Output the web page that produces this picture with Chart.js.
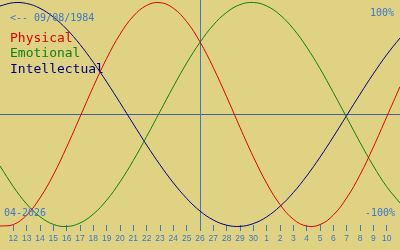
<!DOCTYPE html>
<html><head><meta charset="utf-8">
<script src="https://cdn.jsdelivr.net/npm/chart.js@4"></script>
<style>html,body{margin:0;padding:0;background:#e0d283;overflow:hidden}</style>
</head><body>
<canvas id="c" width="400" height="250" style="display:block;width:400px;height:250px"></canvas>
<script>
// day labels for data points (index 0 = 11 Apr ... index 30 = 11 May)
const dayLabels = ['11','12','13','14','15','16','17','18','19','20','21','22','23','24','25','26','27','28','29','30','1','2','3','4','5','6','7','8','9','10','11'];
const physical = [-0.996,-0.983,-0.898,-0.745,-0.539,-0.291,-0.022,0.249,0.501,0.716,0.878,0.974,0.999,0.949,0.829,0.648,0.418,0.158,-0.115,-0.378,-0.614,-0.804,-0.935,-0.996,-0.983,-0.898,-0.745,-0.539,-0.291,-0.022,0.249];
const emotional = [-0.459,-0.644,-0.799,-0.912,-0.981,-1.000,-0.969,-0.889,-0.765,-0.602,-0.410,-0.196,0.026,0.249,0.459,0.644,0.799,0.912,0.981,1.000,0.969,0.889,0.765,0.602,0.410,0.196,-0.026,-0.249,-0.459,-0.644,-0.790];
const intellectual = [0.969,0.998,0.991,0.948,0.870,0.762,0.625,0.466,0.291,0.105,-0.085,-0.273,-0.449,-0.610,-0.749,-0.862,-0.942,-0.988,-0.999,-0.974,-0.914,-0.820,-0.697,-0.549,-0.381,-0.199,-0.009,0.181,0.363,0.533,0.683];
const seriesNames = ['Physical','Emotional','Intellectual'];
const birthText = '<-- 09/08/1984';
const monthText = '04-2026';
const topText = '100%';
const bottomText = '-100%';
const todayIndex = 15;

const BLUE = '#3a78cc';
const colors = ['#e00000','#108010','#000080'];

function pts(arr){ return arr.map((v,i)=>({x:i,y:v})); }

const deco = {
  id:'deco',
  beforeDraw(chart){
    const ctx = chart.ctx;
    ctx.save(); ctx.fillStyle = '#e0d283'; ctx.fillRect(0,0,chart.width,chart.height); ctx.restore();
  },
  beforeDatasetsDraw(chart){
    const {ctx, chartArea:a, scales:{x,y}} = chart;
    ctx.save();
    ctx.lineWidth = 1;
    const yz = Math.round(y.getPixelForValue(0)) + 0.5;
    ctx.strokeStyle = '#40649a';
    ctx.beginPath(); ctx.moveTo(a.left, yz); ctx.lineTo(a.right, yz); ctx.stroke();
    const xt = Math.round(x.getPixelForValue(todayIndex)) + 0.5;
    ctx.strokeStyle = BLUE;
    ctx.beginPath(); ctx.moveTo(xt, a.top); ctx.lineTo(xt, a.bottom + 4); ctx.stroke();
    ctx.restore();
  },
  afterDraw(chart){
    const ctx = chart.ctx;
    ctx.save();
    ctx.textBaseline = 'alphabetic';
    ctx.font = '10px "DejaVu Sans Mono"';
    ctx.fillStyle = BLUE;
    ctx.textAlign = 'left';
    ctx.fillText(birthText, 10, 21);
    ctx.fillText(monthText, 4, 216);
    ctx.textAlign = 'right';
    ctx.fillText(topText, 394, 16);
    ctx.fillText(bottomText, 395, 216);
    ctx.textAlign = 'left';
    ctx.font = '13px "DejaVu Sans Mono"';
    chart.data.datasets.forEach((ds,i)=>{
      ctx.fillStyle = ds.borderColor;
      ctx.fillText(ds.label, 10, 42 + i*15.3);
    });
    ctx.restore();
  }
};

new Chart(document.getElementById('c'), {
  type:'line',
  data:{
    datasets:[
      {label:seriesNames[0], data:pts(physical), borderColor:colors[0]},
      {label:seriesNames[1], data:pts(emotional), borderColor:colors[1]},
      {label:seriesNames[2], data:pts(intellectual), borderColor:colors[2]}
    ].map(d=>Object.assign(d,{borderWidth:1,pointRadius:0,tension:0.4,fill:false,clip:false}))
  },
  options:{
    responsive:false, animation:false, devicePixelRatio:1,
    layout:{padding:0},
    plugins:{legend:{display:false}, tooltip:{enabled:false}},
    scales:{
      x:{
        type:'linear', min:0, max:30,
        afterBuildTicks(s){ s.ticks = s.ticks.filter(t=>t.value>=1 && t.value<=29); },
        afterFit(s){ s.height = 25; },
        grid:{drawOnChartArea:false, drawTicks:true, tickLength:6, color:BLUE, lineWidth:1},
        border:{display:false},
        ticks:{stepSize:1, autoSkip:false, maxRotation:0, padding:3, color:BLUE,
          font:{family:'"Liberation Sans"', size:8.5},
          callback:(v)=>dayLabels[v]}
      },
      y:{display:false, min:-0.9866, max:1.0223}
    }
  },
  plugins:[deco]
});
</script>
</body></html>
